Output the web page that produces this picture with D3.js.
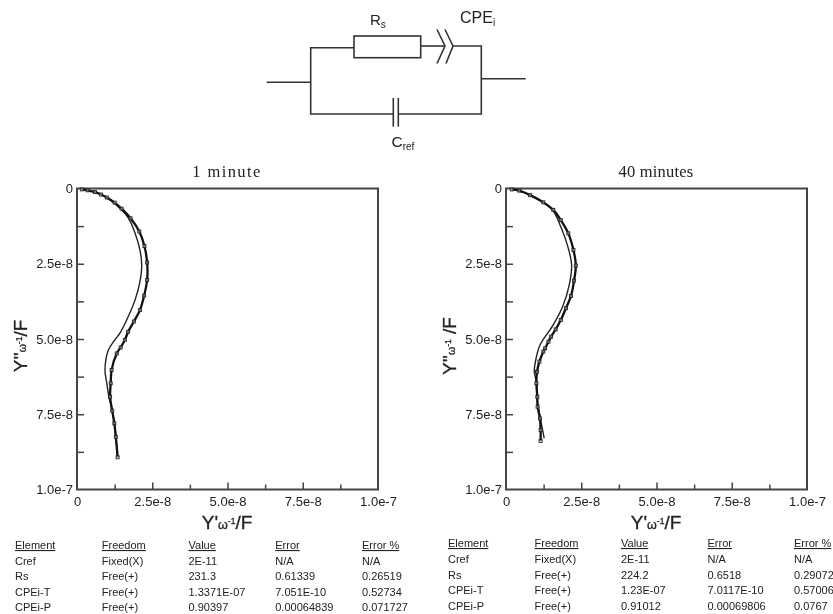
<!DOCTYPE html>
<html><head><meta charset="utf-8">
<script src="https://cdn.jsdelivr.net/npm/d3@7"></script>
<style>
html,body{margin:0;padding:0;background:#fff;overflow:hidden}
svg{display:block;filter:blur(0.4px)}
text{font-family:"Liberation Sans",Arial,sans-serif;fill:#222}
</style></head><body>
<svg id="c" width="833" height="614"></svg>
<script>
// Values in units of 1e-8 F
const tickValues = [0,1.25,2.5,3.75,5,6.25,7.5,8.75,10];
const tickLabels = {0:"0",2.5:"2.5e-8",5:"5.0e-8",7.5:"7.5e-8",10:"1.0e-7"};

const title1 = "1 minute";
const meas1X = [0.16,0.35,0.60,0.80,0.99,1.25,1.48,1.78,2.07,2.24,2.33,2.33,2.23,2.09,1.89,1.70,1.45,1.59,1.32,1.15,1.12,1.10,1.17,1.24,1.29,1.35];
const meas1Y = [0.03,0.06,0.12,0.20,0.30,0.47,0.67,0.99,1.43,1.91,2.46,3.04,3.56,4.04,4.42,4.76,5.28,5.03,5.48,6.03,6.47,6.92,7.38,7.80,8.25,8.93];
const fit1X = [0.16,0.60,1.00,1.45,1.72,1.93,2.09,2.15,2.09,1.93,1.70,1.43,1.26,1.04,0.93,0.99,1.06,1.17,1.24,1.29,1.35];
const fit1Y = [0.03,0.12,0.31,0.68,1.00,1.49,2.04,2.54,3.10,3.70,4.26,4.80,5.03,5.37,6.03,6.47,6.92,7.38,7.80,8.25,8.93];

const title2 = "40 minutes";
const meas2X = [0.19,0.44,0.80,1.24,1.57,1.82,2.07,2.24,2.32,2.26,2.16,1.99,1.82,1.65,1.50,1.41,1.30,1.24,1.11,1.03,1.01,1.04,1.05,1.13,1.15,1.15];
const meas2Y = [0.03,0.07,0.22,0.46,0.71,1.05,1.49,2.04,2.56,3.06,3.57,3.98,4.37,4.68,4.92,5.09,5.31,5.42,5.75,6.09,6.47,6.92,7.25,7.64,8.02,8.39];
const fit2X = [0.19,0.44,0.80,1.24,1.57,1.82,2.04,2.18,2.10,1.88,1.57,1.13,1.00,0.94,1.02,1.04,1.13,1.27];
const fit2Y = [0.03,0.07,0.22,0.46,0.75,1.27,1.88,2.54,3.21,3.93,4.53,5.20,5.64,6.09,6.47,7.03,7.58,8.30];

const tableHeader = ["Element","Freedom","Value","Error","Error %"];
const table1 = [
 ["Cref","Fixed(X)","2E-11","N/A","N/A"],
 ["Rs","Free(+)","231.3","0.61339","0.26519"],
 ["CPEi-T","Free(+)","1.3371E-07","7.051E-10","0.52734"],
 ["CPEi-P","Free(+)","0.90397","0.00064839","0.071727"]];
const table2 = [
 ["Cref","Fixed(X)","2E-11","N/A","N/A"],
 ["Rs","Free(+)","224.2","0.6518","0.29072"],
 ["CPEi-T","Free(+)","1.23E-07","7.0117E-10","0.57006"],
 ["CPEi-P","Free(+)","0.91012","0.00069806","0.0767"]];

const svg = d3.select("#c");

function panel(o){
  const x = d3.scaleLinear().domain([0,10]).range([o.left,o.left+301]);
  const y = d3.scaleLinear().domain([0,10]).range([188.5,489.5]);
  const g = svg.append("g");
  g.append("rect").attr("x",x(0)).attr("y",y(0)).attr("width",301).attr("height",301)
    .attr("fill","none").attr("stroke","#444").attr("stroke-width",2);
  const fmt = d=>tickLabels[d]||"";
  const ax = g.append("g").attr("transform",`translate(0,${y(10)})`)
    .call(d3.axisBottom(x).tickValues(tickValues).tickSizeInner(0).tickSizeOuter(0).tickPadding(7).tickFormat(fmt));
  const ay = g.append("g").attr("transform",`translate(${x(0)},0)`)
    .call(d3.axisLeft(y).tickValues(tickValues).tickSizeInner(0).tickSizeOuter(0).tickPadding(4).tickFormat(fmt));
  ax.select(".domain").remove(); ay.select(".domain").remove();
  ax.selectAll("line").attr("stroke","#444").attr("stroke-width",1.5)
    .attr("y2",d=>(d===0||d===10)?0:(tickLabels[d]?-7:-5));
  ay.selectAll("line").attr("stroke","#444").attr("stroke-width",1.5)
    .attr("x2",d=>(d===0||d===10)?0:7);
  [ax,ay].forEach(a=>a.selectAll("text").attr("font-size",13).attr("fill","#222")
    .style("font-family",'"Liberation Sans"'));

  const line = d3.line().x(d=>x(d[0])).y(d=>y(d[1])).curve(d3.curveCatmullRom.alpha(0.5));
  const order = o.mx.map((v,i)=>[v,o.my[i]]).sort((a,b)=>a[1]-b[1]);
  const fit = o.fx.map((v,i)=>[v,o.fy[i]]);
  g.append("path").attr("d",line(fit)).attr("fill","none").attr("stroke","#222").attr("stroke-width",1.4);
  g.append("path").attr("d",line(order)).attr("fill","none").attr("stroke","#111").attr("stroke-width",2.3);
  g.selectAll("rect.m").data(order).join("rect").attr("class","m")
    .attr("x",d=>x(d[0])-1.5).attr("y",d=>y(d[1])-1.5).attr("width",3).attr("height",3)
    .attr("fill","#fff").attr("fill-opacity",.4).attr("stroke","#222").attr("stroke-width",.9);

  svg.append("text").attr("x",o.left+150).attr("y",177).attr("text-anchor","middle")
    .style("font-family",'"Liberation Serif"').attr("font-size",16.5)
    .attr("letter-spacing",o.titleGap).text(o.title);

  // x title
  const xt = svg.append("text").attr("x",o.left+150).attr("y",529).attr("text-anchor","middle")
    .attr("font-size",19).attr("stroke","#222").attr("stroke-width",.3);
  xt.append("tspan").text("Y'");
  xt.append("tspan").attr("font-size",12.5).text("ω");
  xt.append("tspan").attr("font-size",8.5).attr("dy",-5).text("-1");
  xt.append("tspan").attr("dy",5).text("/F");
  // y title
  const yt = svg.append("text").attr("transform",`translate(${o.yTitle},346) rotate(-90)`)
    .attr("text-anchor","middle").attr("font-size",19).attr("stroke","#222").attr("stroke-width",.3);
  yt.append("tspan").text("Y''");
  yt.append("tspan").attr("font-size",10.5).attr("dy",-1).text("ω");
  yt.append("tspan").attr("font-size",8.5).attr("dy",-4).text("-1");
  yt.append("tspan").attr("dy",5).text(o.yGap+"/F");

  // fit table
  const rowsY = d3.scalePoint().domain(d3.range(5)).range(o.rows);
  const colX = d3.scalePoint().domain(d3.range(5)).range(o.cols);
  tableHeader.forEach((h,c)=>{
    svg.append("text").attr("x",colX(c)).attr("y",rowsY(0)+4).attr("font-size",11)
      .attr("text-decoration","underline").text(h);
  });
  o.table.forEach((r,ri)=>r.forEach((t,c)=>{
    svg.append("text").attr("x",colX(c)).attr("y",rowsY(ri+1)+4).attr("font-size",11).text(t);
  }));
}

panel({left:77,title:title1,titleGap:1.4,mx:meas1X,my:meas1Y,fx:fit1X,fy:fit1Y,table:table1,rows:[545,607],cols:[15,362],yTitle:27,yGap:""});
panel({left:506,title:title2,titleGap:0.2,mx:meas2X,my:meas2Y,fx:fit2X,fy:fit2Y,table:table2,rows:[543,606],cols:[448,794],yTitle:456,yGap:" "});

// Equivalent circuit
const wires = [
 "M266.7 82.3H310.7","M354 47.7H310.7V114H393.3","M398.3 114H481.3V46H452.5",
 "M420.7 46H445","M437 29.5L445 46L437 63.5","M445 29.5L453 46L446 63.5",
 "M393.3 98V126.7","M398.3 98V126.7","M481.3 78.7H525.7"];
const circuit = svg.append("g").attr("fill","none").attr("stroke","#333").attr("stroke-width",1.6);
circuit.selectAll("path").data(wires).join("path").attr("d",d=>d);
circuit.append("rect").attr("x",354).attr("y",36).attr("width",66.7).attr("height",21.7);
function sub(x,y,a,b,fs){
  const t=svg.append("text").attr("x",x).attr("y",y).attr("font-size",fs);
  t.append("tspan").text(a);
  t.append("tspan").attr("font-size",10).attr("dy",3).text(b);
}
sub(370,25,"R","s",15); sub(460,23,"CPE","i",16); sub(391.5,147,"C","ref",15.5);
</script>
</body></html>
